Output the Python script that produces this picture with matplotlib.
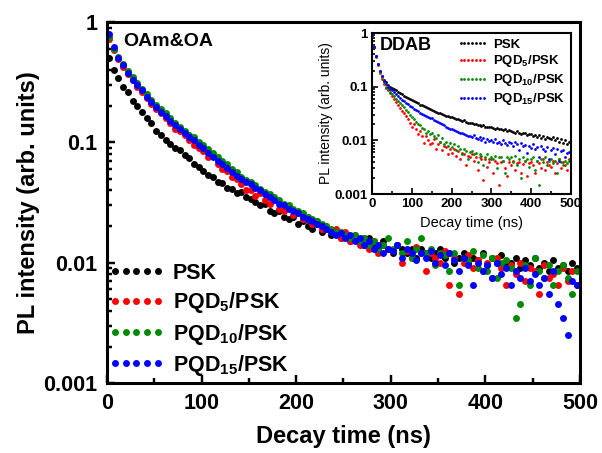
import numpy as np
import matplotlib
matplotlib.use('Agg')
import matplotlib.pyplot as plt
from matplotlib.ticker import LogLocator, FixedLocator, FuncFormatter, NullFormatter, MultipleLocator

plt.rcParams['font.family'] = ['Liberation Sans', 'DejaVu Sans']
plt.rcParams['font.weight'] = 'bold'
plt.rcParams['mathtext.fontset'] = 'custom'
plt.rcParams['mathtext.rm'] = 'Liberation Sans:bold'
plt.rcParams['mathtext.default'] = 'rm'

# ---- main panel (OAm&OA) ----
t_main = np.arange(2, 500, 5)

psk_main = [0.50, 0.40, 0.34, 0.29, 0.26, 0.22, 0.20, 0.18, 0.16, 0.145,
            0.125, 0.115, 0.105, 0.097, 0.090, 0.086, 0.079, 0.074, 0.066, 0.062,
            0.058, 0.054, 0.052, 0.047, 0.046, 0.042, 0.041, 0.038, 0.039, 0.035,
            0.034, 0.032, 0.030, 0.031, 0.027, 0.026, 0.027, 0.024, 0.023, 0.024,
            0.021, 0.022, 0.020, 0.019, 0.021, 0.018, 0.019, 0.017, 0.018, 0.016,
            0.017, 0.015, 0.016, 0.015, 0.014, 0.016, 0.014, 0.013, 0.015, 0.013,
            0.012, 0.014, 0.013, 0.012, 0.013, 0.011, 0.013, 0.012, 0.011, 0.012,
            0.013, 0.011, 0.012, 0.010, 0.011, 0.012, 0.010, 0.011, 0.0105, 0.012,
            0.0095, 0.011, 0.010, 0.0115, 0.0095, 0.010, 0.011, 0.009, 0.0105, 0.0095,
            0.011, 0.009, 0.010, 0.0085, 0.0105, 0.009, 0.0095, 0.0085, 0.010, 0.009]

pqd5_main = [0.72, 0.58, 0.49, 0.42, 0.37, 0.33, 0.29, 0.26, 0.235, 0.21,
             0.19, 0.175, 0.16, 0.145, 0.13, 0.125, 0.115, 0.105, 0.095, 0.090,
             0.085, 0.075, 0.078, 0.066, 0.060, 0.058, 0.052, 0.050, 0.045, 0.040,
             0.040, 0.036, 0.038, 0.033, 0.031, 0.033, 0.028, 0.027, 0.029, 0.025,
             0.026, 0.023, 0.024, 0.021, 0.022, 0.019, 0.020, 0.018, 0.019, 0.016,
             0.018, 0.015, 0.017, 0.014, 0.016, 0.013, 0.015, 0.012, 0.014, 0.013,
             0.0125, 0.014, 0.010, 0.0125, 0.011, 0.0135, 0.012, 0.0085, 0.012, 0.011,
             0.010, 0.0125, 0.0065, 0.011, 0.0055, 0.010, 0.0115, 0.009, 0.0105, 0.0085,
             0.010, 0.0075, 0.011, 0.009, 0.0065, 0.0095, 0.008, 0.010, 0.0070, 0.009,
             0.0085, 0.0055, 0.0095, 0.0075, 0.008, 0.0065, 0.009, 0.0070, 0.0085, 0.0065]

pqd10_main = [0.75, 0.60, 0.51, 0.45, 0.39, 0.35, 0.31, 0.28, 0.25, 0.225,
              0.205, 0.19, 0.175, 0.16, 0.145, 0.135, 0.125, 0.115, 0.11, 0.10,
              0.095, 0.088, 0.082, 0.076, 0.070, 0.066, 0.060, 0.057, 0.052, 0.049,
              0.047, 0.044, 0.041, 0.039, 0.037, 0.035, 0.033, 0.031, 0.030, 0.028,
              0.027, 0.026, 0.024, 0.023, 0.022, 0.021, 0.020, 0.019, 0.018, 0.018,
              0.017, 0.016, 0.017, 0.015, 0.016, 0.014, 0.015, 0.013, 0.014, 0.016,
              0.013, 0.014, 0.012, 0.015, 0.011, 0.013, 0.016, 0.012, 0.013, 0.0095,
              0.012, 0.0115, 0.0085, 0.012, 0.0065, 0.011, 0.0105, 0.0125, 0.009, 0.0115,
              0.0085, 0.011, 0.0075, 0.010, 0.0105, 0.009, 0.0035, 0.0045, 0.0095, 0.0065,
              0.011, 0.0085, 0.0075, 0.0095, 0.0065, 0.0085, 0.0095, 0.0075, 0.0055, 0.0085]

pqd15_main = [0.80, 0.62, 0.50, 0.44, 0.38, 0.33, 0.30, 0.27, 0.24, 0.215,
              0.195, 0.18, 0.165, 0.15, 0.14, 0.13, 0.12, 0.11, 0.105, 0.095,
              0.090, 0.082, 0.076, 0.070, 0.066, 0.061, 0.057, 0.053, 0.050, 0.047,
              0.045, 0.042, 0.040, 0.037, 0.035, 0.033, 0.031, 0.030, 0.028, 0.027,
              0.026, 0.024, 0.023, 0.022, 0.021, 0.020, 0.019, 0.018, 0.017, 0.0175,
              0.016, 0.017, 0.015, 0.016, 0.014, 0.015, 0.013, 0.014, 0.012, 0.013,
              0.0125, 0.014, 0.011, 0.013, 0.012, 0.0105, 0.012, 0.011, 0.0125, 0.010,
              0.0115, 0.0095, 0.012, 0.0105, 0.0085, 0.011, 0.0095, 0.0065, 0.010, 0.0085,
              0.0095, 0.0075, 0.010, 0.008, 0.009, 0.0065, 0.0085, 0.0075, 0.009, 0.007,
              0.008, 0.0065, 0.0075, 0.0055, 0.0085, 0.0045, 0.0035, 0.0025, 0.007, 0.0065]

# ---- inset (DDAB) ----
t_ins = np.arange(0, 500, 5)

psk_ins = [0.9, 0.55, 0.38, 0.27, 0.2, 0.16, 0.135, 0.12, 0.108, 0.10,
           0.095, 0.09, 0.085, 0.08, 0.076, 0.072, 0.068, 0.065, 0.062, 0.059,
           0.056, 0.053, 0.051, 0.049, 0.046, 0.045, 0.043, 0.041, 0.040, 0.038,
           0.037, 0.036, 0.034, 0.033, 0.032, 0.031, 0.030, 0.029, 0.028, 0.0275,
           0.027, 0.026, 0.025, 0.0255, 0.024, 0.023, 0.0235, 0.022, 0.0215, 0.021,
           0.021, 0.020, 0.0205, 0.019, 0.0195, 0.0185, 0.019, 0.018, 0.0175, 0.018,
           0.0175, 0.017, 0.0165, 0.017, 0.016, 0.0165, 0.0155, 0.016, 0.015, 0.0155,
           0.015, 0.0145, 0.0135, 0.015, 0.014, 0.013, 0.014, 0.0135, 0.0125, 0.013,
           0.013, 0.012, 0.0125, 0.0115, 0.0125, 0.011, 0.012, 0.0105, 0.0115, 0.011,
           0.0105, 0.0115, 0.010, 0.011, 0.0095, 0.0105, 0.009, 0.010, 0.0085, 0.0095]

pqd5_ins = [0.9, 0.55, 0.36, 0.25, 0.18, 0.14, 0.11, 0.095, 0.085, 0.075,
            0.068, 0.06, 0.052, 0.046, 0.04, 0.036, 0.032, 0.028, 0.025, 0.021,
            0.018, 0.020, 0.016, 0.013, 0.015, 0.012, 0.009, 0.012, 0.010, 0.0085,
            0.009, 0.0105, 0.007, 0.0085, 0.0095, 0.0065, 0.008, 0.0075, 0.0055, 0.007,
            0.0058, 0.0068, 0.0052, 0.0062, 0.0045, 0.0058, 0.0055, 0.0035, 0.0052, 0.0048,
            0.0055, 0.0042, 0.005, 0.0028, 0.0048, 0.0045, 0.0018, 0.0045, 0.0032, 0.004,
            0.0045, 0.0025, 0.0042, 0.0038, 0.0015, 0.004, 0.0042, 0.003, 0.0022, 0.004,
            0.0035, 0.0042, 0.0028, 0.0038, 0.004, 0.0025, 0.0036, 0.0042, 0.0022, 0.0038,
            0.004, 0.0035, 0.0025, 0.0042, 0.0038, 0.003, 0.0045, 0.0028, 0.004, 0.0035,
            0.0032, 0.0042, 0.0025, 0.0038, 0.0045, 0.003, 0.004, 0.0035, 0.0028, 0.0045]

pqd10_ins = [0.9, 0.56, 0.37, 0.26, 0.19, 0.15, 0.12, 0.10, 0.09, 0.08,
             0.073, 0.066, 0.06, 0.055, 0.05, 0.045, 0.041, 0.037, 0.034, 0.030,
             0.027, 0.025, 0.022, 0.02, 0.019, 0.017, 0.016, 0.014, 0.015, 0.013,
             0.014, 0.012, 0.011, 0.0125, 0.0095, 0.011, 0.0085, 0.0095, 0.008, 0.009,
             0.0076, 0.0085, 0.0065, 0.0078, 0.007, 0.0055, 0.0068, 0.0062, 0.0045, 0.006,
             0.0062, 0.0055, 0.0058, 0.004, 0.0055, 0.0052, 0.0035, 0.005, 0.0055, 0.0045,
             0.005, 0.0045, 0.0052, 0.003, 0.0048, 0.005, 0.0042, 0.0025, 0.0048, 0.0045,
             0.0048, 0.004, 0.0052, 0.0035, 0.0045, 0.002, 0.0048, 0.0042, 0.0045, 0.0032,
             0.0045, 0.0048, 0.0028, 0.0042, 0.0015, 0.0045, 0.004, 0.0048, 0.0035, 0.0042,
             0.0044, 0.0038, 0.0042, 0.0025, 0.0045, 0.004, 0.0035, 0.0042, 0.0038, 0.0042]

pqd15_ins = [0.9, 0.56, 0.37, 0.26, 0.195, 0.155, 0.125, 0.11, 0.098, 0.09,
             0.085, 0.078, 0.072, 0.066, 0.061, 0.057, 0.053, 0.05, 0.047, 0.044,
             0.042, 0.039, 0.037, 0.035, 0.033, 0.031, 0.03, 0.028, 0.027, 0.026,
             0.026, 0.024, 0.023, 0.022, 0.021, 0.02, 0.019, 0.018, 0.017, 0.0165,
             0.016, 0.0155, 0.015, 0.0142, 0.014, 0.0135, 0.013, 0.0125, 0.012, 0.0118,
             0.0115, 0.0125, 0.011, 0.0105, 0.0115, 0.01, 0.011, 0.0095, 0.0105, 0.0098,
             0.01, 0.0092, 0.0105, 0.0088, 0.0095, 0.0085, 0.01, 0.009, 0.0082, 0.0095,
             0.0088, 0.0078, 0.0092, 0.0085, 0.0065, 0.0088, 0.0078, 0.0082, 0.0058, 0.008,
             0.0072, 0.0085, 0.0068, 0.0075, 0.0048, 0.0078, 0.007, 0.0062, 0.0075, 0.0045,
             0.0065, 0.0072, 0.0055, 0.0068, 0.0042, 0.0062, 0.0065, 0.005, 0.0058, 0.006]

labels = ['PSK', 'PQD$_{5}$/PSK', 'PQD$_{10}$/PSK', 'PQD$_{15}$/PSK']
colors = ['black', '#ff0000', '#008a00', '#0000ff']

y_ticks = [1, 0.1, 0.01, 0.001]
x_ticks = [0, 100, 200, 300, 400, 500]


def fmt_log(v, pos):
    return {1: '1', 0.1: '0.1', 0.01: '0.01', 0.001: '0.001'}.get(round(v, 6), '')


def style_axes(ax, lw, major_len, minor_len, fs, pad):
    for s in ax.spines.values():
        s.set_linewidth(lw)
    ax.set_yscale('log')
    ax.set_xlim(0, 500)
    ax.set_ylim(0.001, 1)
    ax.xaxis.set_major_locator(FixedLocator(x_ticks))
    ax.xaxis.set_minor_locator(MultipleLocator(50))
    ax.yaxis.set_major_locator(FixedLocator(y_ticks))
    ax.yaxis.set_minor_locator(LogLocator(base=10, subs=np.arange(2, 10)))
    ax.yaxis.set_major_formatter(FuncFormatter(fmt_log))
    ax.yaxis.set_minor_formatter(NullFormatter())
    ax.tick_params(which='both', direction='in', top=False, right=False, width=lw * 0.8)
    ax.tick_params(which='major', length=major_len, labelsize=fs, pad=pad)
    ax.tick_params(which='minor', length=minor_len)


fig = plt.figure(figsize=(6.02, 4.53), dpi=100)
ax = fig.add_axes([0.1777, 0.1545, 0.7857, 0.7969])

main_sets = [psk_main, pqd5_main, pqd10_main, pqd15_main]
for vals, lab, c in zip(main_sets, labels, colors):
    ax.plot(t_main, vals, 'o', ls='none', ms=5, mec='none', color=c, label=lab)

style_axes(ax, 2.2, 6, 3.5, 15.5, 7)
ax.set_xlabel('Decay time (ns)', fontsize=17, fontweight='bold', labelpad=8)
ax.set_ylabel('PL intensity (arb. units)', fontsize=17, fontweight='bold', labelpad=2)
ax.text(0.034, 0.945, 'OAm&OA', transform=ax.transAxes, fontsize=14,
        fontweight='bold', va='center', ha='left')
ax.legend(loc='lower left', numpoints=5, frameon=False, fontsize=15.5,
          handlelength=2.6, handletextpad=0.4, labelspacing=0.3,
          borderaxespad=0.0, bbox_to_anchor=(-0.015, -0.01))

# inset
axi = fig.add_axes([0.618, 0.5717, 0.3306, 0.3554])
ins_sets = [psk_ins, pqd5_ins, pqd10_ins, pqd15_ins]
for vals, lab, c in zip(ins_sets, labels, colors):
    axi.plot(t_ins, vals, 'o', ls='none', ms=2, mec='none', color=c, label=lab)

style_axes(axi, 1.5, 4, 2, 9.5, 3)
axi.set_xlabel('Decay time (ns)', fontsize=10.5, fontweight='normal', labelpad=4)
axi.set_ylabel('PL intensity (arb. units)', fontsize=10, fontweight='normal', labelpad=1)
axi.text(0.04, 0.925, 'DDAB', transform=axi.transAxes, fontsize=13,
         fontweight='bold', va='center', ha='left')
axi.legend(loc='upper right', numpoints=7, frameon=False, fontsize=9.5,
           handlelength=2.4, handletextpad=0.4, labelspacing=0.22,
           borderaxespad=0.0, bbox_to_anchor=(1.0, 1.0))

fig.savefig('out.png', dpi=100)
